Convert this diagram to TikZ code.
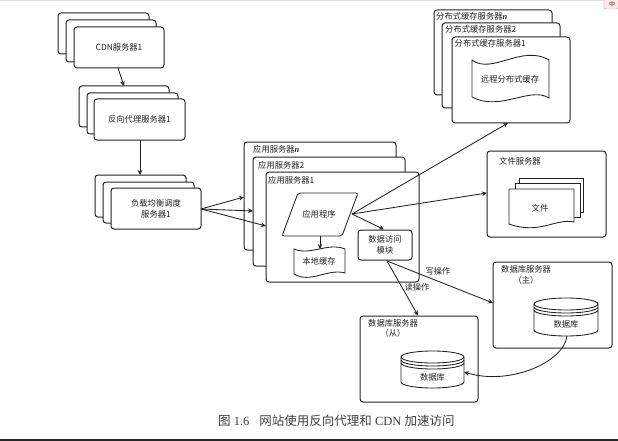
\documentclass[tikz,border=0pt]{standalone}
\usepackage{fontspec}
\setmainfont{Liberation Serif}
\newfontfamily\cjk{Noto Sans CJK SC}
\usetikzlibrary{arrows.meta}
\definecolor{ink}{HTML}{222222}
\tikzset{
  x=1pt,y=-1pt,
  srv/.style={draw=ink,fill=white,rounded corners=3pt,line width=1pt,inner sep=0pt,font=\cjk\fontsize{8.3}{11}\selectfont,text=ink,align=center},
  shp/.style={draw=ink,fill=white,line width=0.85pt},
  lbl/.style={inner sep=0pt,font=\cjk\fontsize{8.3}{11}\selectfont,text=ink,align=center},
  conn/.style={draw=ink,line width=0.85pt,-{Stealth[length=5pt,width=4.5pt]}},
}
% name, x0, y0, x1, y1, text
\newcommand\srvbox[6]{%
  \pgfmathsetmacro\myw{#4-#2}\pgfmathsetmacro\myh{#5-#3}%
  \pgfmathsetmacro\mycx{(#2+#4)/2}\pgfmathsetmacro\mycy{(#3+#5)/2}%
  \node[srv,minimum width=\myw pt,minimum height=\myh pt] (#1) at (\mycx,\mycy) {#6};}
% cylinder: name, x0, y0, x1, y1
\newcommand\dbcyl[5]{%
  \pgfmathsetmacro\mycx{(#2+#4)/2}\pgfmathsetmacro\myrx{(#4-#2)/2}%
  \draw[shp] (#2,#3+6) arc[x radius=\myrx,y radius=6,start angle=180,end angle=360]
     -- (#4,#5-6) arc[x radius=\myrx,y radius=6,start angle=0,end angle=180] -- cycle;
  \draw[shp,fill=none] (#2,#3+6) arc[x radius=\myrx,y radius=6,start angle=180,end angle=0];
  \draw[shp,fill=none] (#2,#3+9) arc[x radius=\myrx,y radius=6,start angle=180,end angle=0];
  \draw[shp,fill=none] (#2,#3+12) arc[x radius=\myrx,y radius=6,start angle=180,end angle=0];
  \node[lbl] (#1) at (\mycx,#3+26) {数据库};}
\begin{document}
\begin{tikzpicture}
\useasboundingbox (0,0) rectangle (618,441);
\fill[white] (0,0) rectangle (618,441);
\fill[black!12] (0,0) rectangle (618,1);
\fill[black!85] (0,438.5) rectangle (618,441);

% CDN stack
\srvbox{cdnc}{58}{13}{149}{54}{}
\srvbox{cdnb}{66}{20}{156}{62}{}
\srvbox{cdna}{74}{27}{164}{68}{CDN服务器1}
% proxy stack
\srvbox{proxc}{79}{86}{169}{127}{}
\srvbox{proxb}{87}{93}{178}{134}{}
\srvbox{proxa}{94}{99}{185}{140}{反向代理服务器1}
% load balancer stack
\srvbox{lbc}{95}{175}{186}{217}{}
\srvbox{lbb}{103}{182}{194}{223}{}
\srvbox{lba}{111}{188}{201}{229}{负载均衡调度\\服务器1}
% app servers
\srvbox{appc}{244}{142}{396}{250}{}
\srvbox{appb}{253}{157}{405}{266}{}
\srvbox{appa}{266}{172}{419}{282}{}
\node[lbl,anchor=west] (tappc) at (253,149.5) {应用服务器\textit{\rmfamily\bfseries n}};
\node[lbl,anchor=west] (tappb) at (258,165) {应用服务器2};
\node[lbl,anchor=west] (tappa) at (268,180) {应用服务器1};
% program
\draw[shp,rounded corners=2pt] (298,193) -- (358,193) -- (342,236) -- (282,236) -- cycle;
\node[lbl] (prog) at (319,214) {应用程序};
\coordinate (progr) at (352,214);
\coordinate (progb) at (320,236);
% local cache
\draw[shp] (294,249) .. controls (310,256) and (328,242) .. (345,249) -- (345,273)
   .. controls (328,268) and (310,284) .. (294,274) -- cycle;
\node[lbl] (cache) at (319,261) {本地缓存};
\coordinate (cachet) at (320,249);
% data module
\srvbox{dmod}{358}{230}{412}{260}{数据访问\\模块}
\coordinate (dmodb) at (387,261);
\coordinate (dmodt) at (384,229.5);

% dist cache
\srvbox{dstc}{434}{10}{552}{95}{}
\srvbox{dstb}{442}{23}{560}{108}{}
\srvbox{dsta}{452}{37}{570}{123}{}
\node[lbl,anchor=west] (tdstc) at (436,16) {分布式缓存服务器\textit{\rmfamily\bfseries n}};
\node[lbl,anchor=west] (tdstb) at (445,29.5) {分布式缓存服务器2};
\node[lbl,anchor=west] (tdsta) at (454.5,43) {分布式缓存服务器1};
\draw[shp] (472,60) .. controls (492,75) and (522,44) .. (549,60) -- (549,98)
   .. controls (530,86) and (500,112) .. (472,97) -- cycle;
\node[lbl] (rcache) at (510,79.5) {远程分布式缓存};
\coordinate (dstin) at (508,123);

% file server
\srvbox{fsrv}{487}{151}{606}{237}{}
\node[lbl,anchor=west] (tfile) at (499,161) {文件服务器};
\draw[shp] (519,178) -- (583,178) -- (583,212) -- (519,212) -- cycle;
\draw[shp] (515,183) -- (580,183) -- (580,217) -- (515,217) -- cycle;
\draw[shp] (509,189) -- (574,189) -- (574,222) .. controls (555,218) and (540,235) .. (509,224) -- cycle;
\node[lbl] (file) at (540,208) {文件};
\coordinate (fsrvl) at (487,193);

% master DB
\srvbox{mdb}{493}{262}{612}{348}{}
\node[lbl,anchor=west] (tmdb) at (501,269.5) {数据库服务器};
\node[lbl] (tmdb2) at (526,280) {（主）};
\dbcyl{mcyl}{534}{298}{598}{336}
\coordinate (mcylb) at (567,336);
\coordinate (mdbl) at (493,303);
% slave DB
\srvbox{sdb}{360}{316}{478}{402}{}
\node[lbl,anchor=west] (tsdb) at (368,323) {数据库服务器};
\node[lbl] (tsdb2) at (393,333.5) {（从）};
\dbcyl{scyl}{401}{351}{464}{388}
\coordinate (scylr) at (464,372);
\coordinate (sdbt) at (418,315.5);

% connectors
\coordinate (cdnout) at (118,68);
\coordinate (proxin) at (124,86);
\coordinate (proxout) at (140,140);
\coordinate (lbin) at (140,175);
\coordinate (lbout) at (201,209);
\coordinate (appcin) at (244,197);
\coordinate (appbin) at (253,211);
\coordinate (appain) at (266,226);
\draw[conn] (cdnout) -- (proxin);
\draw[conn] (proxout) -- (lbin);
\draw[conn] (lbout) -- (appcin);
\draw[conn] (lbout) -- (appbin);
\draw[conn] (lbout) -- (appain);
\draw[conn] (progb) -- (cachet);
\draw[conn] (progr) -- (dstin);
\draw[conn] (progr) -- (fsrvl);
\draw[conn] (progr) -- (dmodt);
\draw[conn] (dmodb) -- (mdbl);
\draw[conn] (dmodb) -- (sdbt);
\draw[conn] (mcylb) .. controls (564,362) and (510,386) .. (scylr);
\node[lbl] (wr) at (438,271) {写操作};
\node[lbl] (rd) at (417,287) {读操作};

% caption
\node[inner sep=0pt,anchor=west,text=black!75,font=\fontsize{12.5}{14}\selectfont] (cap) at (218,421) {{\cjk 图} 1.6\hspace{10pt}{\cjk 网站使用反向代理和} CDN {\cjk 加速访问}};
% icon
\draw[black!35,fill=red!8,rounded corners=1pt] (604,-2) rectangle (618,9);
\node[inner sep=0pt,text=red!60!black,font=\cjk\fontsize{6}{6}\selectfont] (ime) at (612,4) {中};
\end{tikzpicture}
\end{document}
